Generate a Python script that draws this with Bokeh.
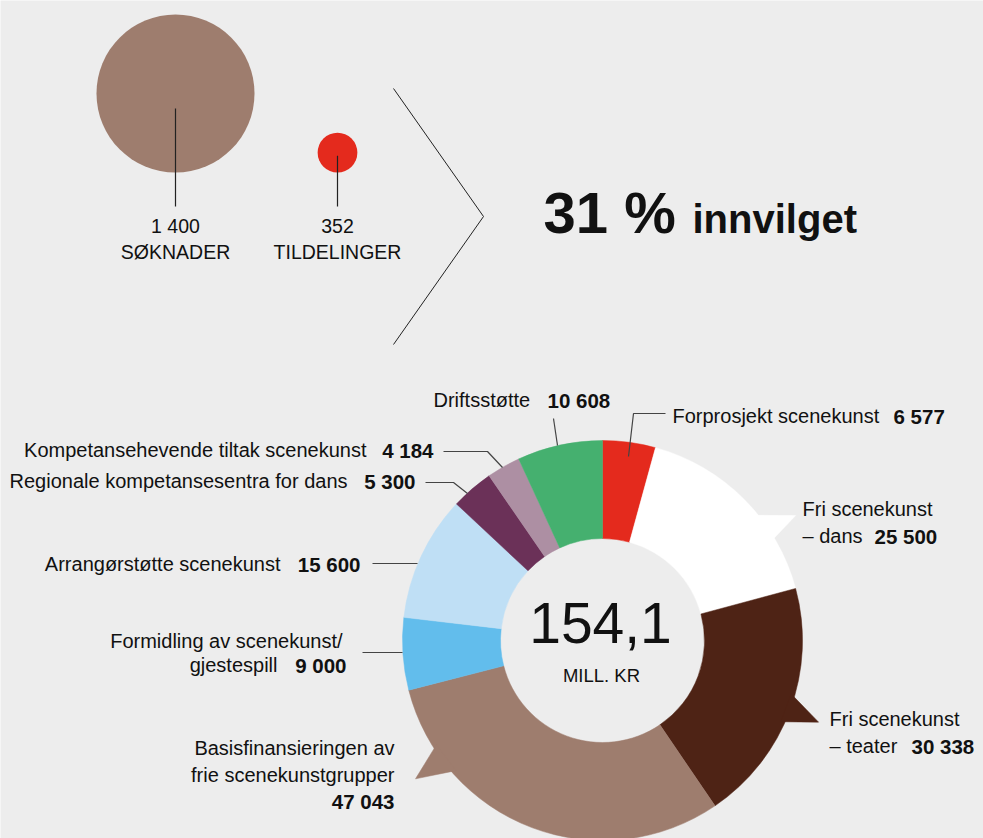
import numpy as np
from bokeh.plotting import figure
from bokeh.models import Range1d
from bokeh.embed import file_html
from bokeh.resources import INLINE
from bokeh.core.properties import value

# ---------------- data ----------------
categories = ["Forprosjekt scenekunst", "Fri scenekunst – dans", "Fri scenekunst – teater",
              "Basisfinansieringen av frie scenekunstgrupper", "Formidling av scenekunst/gjestespill",
              "Arrangørstøtte scenekunst", "Regionale kompetansesentra for dans",
              "Kompetansehevende tiltak scenekunst", "Driftsstøtte"]
amounts = [6577, 25500, 30338, 47043, 9000, 15600, 5300, 4184, 10608]
amount_labels = ["6 577", "25 500", "30 338", "47 043", "9 000", "15 600", "5 300", "4 184", "10 608"]
colors = ["#e42a1d", "#ffffff", "#4e2315", "#9e7d6e", "#62bdec", "#bfdff5", "#6b3158", "#ad8fa3", "#45b06f"]
total_label = "154,1"
total_unit = "MILL. KR"

count_values = [1400, 352]
count_labels = ["1 400", "352"]
count_names = ["SØKNADER", "TILDELINGER"]
count_colors = ["#9e7d6e", "#e42a1d"]
share_label = "31 %"
share_text = "innvilget"

# ---------------- layout ----------------
BG = "#ededed"
FONT = value("Liberation Sans")
TXT = "#111111"
W, H = 983, 838
WIN_H = 838
BASE_K = 0.36  # correction: rendered baseline sits ~0.36 em below the anchor
LFS = 20  # label font size


def Y(py):
    return WIN_H - py


def YB(baseline_px, fs):
    return WIN_H - (baseline_px - BASE_K * fs)


p = figure(width=W, height=H, x_range=Range1d(0, W), y_range=Range1d(0, H),
           output_backend="svg", toolbar_location=None, min_border=0,
           x_axis_location=None, y_axis_location=None,
           background_fill_color=BG, border_fill_color=BG, outline_line_color=None)
p.xgrid.grid_line_color = None
p.ygrid.grid_line_color = None


def txt(x, baseline, s, fs, align="left", bold=False):
    p.text(x=[x], y=[YB(baseline, fs)], text=[s], text_align=align, text_baseline="alphabetic",
           text_font=FONT, text_font_size=f"{fs}px", text_font_style="bold" if bold else "normal",
           text_color=TXT)


# ---- top: circles with radius proportional to counts ----
circ_x = [175, 337]
circ_bottom = 172
scale = 79 / 1400
radii = [v * scale for v in count_values]
cy = [circ_bottom - r for r in radii]
p.circle(x=circ_x, y=[Y(c) for c in cy], radius=radii, fill_color=count_colors, line_color=None)
stem_start = [cy[0] + 15, cy[1] + 3]
for x, s in zip(circ_x, stem_start):
    p.line([x, x], [Y(s), Y(206)], line_color="#222222", line_width=1.2)
for x, lab, name in zip(circ_x, count_labels, count_names):
    txt(x, 233, lab, 19.5, "center")
    txt(x, 259, name, 19.5, "center")

# chevron
p.line([393, 483, 393], [Y(88), Y(216), Y(344)], line_color="#222222", line_width=1)

txt(543, 233, share_label, 58, bold=True)
txt(692, 233, share_text, 40, bold=True)

# ---- donut ----
CX, CY = 602, 640
R_OUT, R_IN = 200, 102
total = float(sum(amounts))
cum = np.concatenate([[0], np.cumsum(amounts)]) / total * 2 * np.pi  # clockwise from top
start_angles = np.pi / 2 - cum[1:]
end_angles = np.pi / 2 - cum[:-1]
p.annular_wedge(x=CX, y=Y(CY), inner_radius=R_IN, outer_radius=R_OUT,
                start_angle=list(start_angles), end_angle=list(end_angles),
                fill_color=colors, line_color=colors, line_width=0.5)


def pt(theta_deg, r):
    t = np.radians(theta_deg)
    return CX + r * np.sin(t), Y(CY) + r * np.cos(t)


# speech-bubble tails: (segment index, base angle 1, base angle 2, tip angle, tip radius)
tails = [(1, 50.3, 59.5, 57.1, 230), (2, 105.8, 114.5, 110.7, 231), (3, 237.9, 228.4, 233.5, 232.6)]
xs, ys, tc = [], [], []
for idx, a1, a2, at, rt in tails:
    p1 = pt(a1, R_OUT - 4)
    p2 = pt(a2, R_OUT - 4)
    p3 = pt(at, rt)
    xs.append([p1[0], p3[0], p2[0]])
    ys.append([p1[1], p3[1], p2[1]])
    tc.append(colors[idx])
p.patches(xs, ys, fill_color=tc, line_color=tc, line_width=0.5)

# leader lines (pixel layout)
leaders = [
    [(665, 413), (633, 413), (628, 456)],
    [(553, 418), (557, 445)],
    [(443, 451), (487, 451), (502, 467)],
    [(425, 482), (453, 482), (467, 493)],
    [(372, 563), (417, 563)],
    [(362, 652), (402, 652)],
]
for seg in leaders:
    p.line([a for a, b in seg], [Y(b) for a, b in seg], line_color="#444444", line_width=1.2)

# labels: (lines [(text, x, baseline, align)], number (x, baseline, align))
label_layout = [
    ([("Forprosjekt scenekunst", 672, 423, "left")], (893, 423, "left")),
    ([("Fri scenekunst", 802, 516, "left"), ("– dans", 802, 543, "left")], (874, 543, "left")),
    ([("Fri scenekunst", 829, 726, "left"), ("– teater", 829, 753, "left")], (911, 753, "left")),
    ([("Basisfinansieringen av", 394, 755, "right"), ("frie scenekunstgrupper", 394, 782, "right")], (394, 808, "right")),
    ([("Formidling av scenekunst/", 342, 648, "right"), ("gjestespill", 277, 672, "right")], (346, 672, "right")),
    ([("Arrangørstøtte scenekunst", 280, 571, "right")], (360, 571, "right")),
    ([("Regionale kompetansesentra for dans", 347, 488, "right")], (415, 488, "right")),
    ([("Kompetansehevende tiltak scenekunst", 366, 457, "right")], (433, 457, "right")),
    ([("Driftsstøtte", 433, 407, "left")], (547, 407, "left")),
]
for (lines, num), lab in zip(label_layout, amount_labels):
    for t, x, b, al in lines:
        txt(x, b, t, LFS, al)
    nx, nb, nal = num
    txt(nx, nb, lab, 20.5, nal, bold=True)

# centre total
txt(600, 643, total_label, 57, "center")
txt(601, 682, total_unit, 18.5, "center")

open("out.html", "w").write(file_html(p, INLINE))
